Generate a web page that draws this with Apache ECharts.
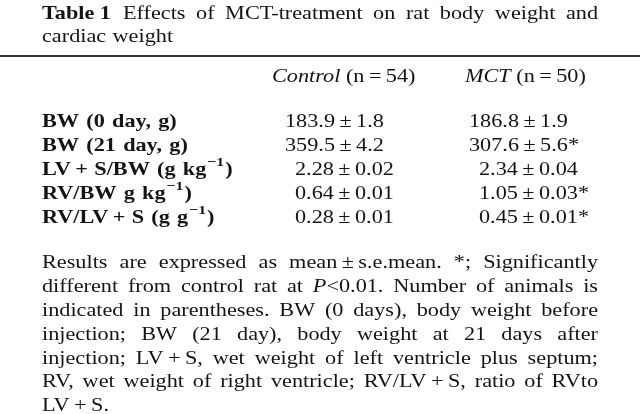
<!DOCTYPE html>
<html>
<head>
<meta charset="utf-8">
<script src="https://cdn.jsdelivr.net/npm/echarts@6/dist/echarts.min.js"></script>
<style>html,body{margin:0;padding:0;background:#fff}#c{width:640px;height:414px}</style>
</head>
<body>
<div id="c"></div>
<script>
// ---- data ----
const tableNumber = 'Table 1';
const titleWords = ['Effects', 'of', 'MCT-treatment', 'on', 'rat', 'body', 'weight', 'and'];
const titleLine2 = 'cardiac weight';
const groupNames = ['Control', 'MCT'];
const groupN = [54, 50];
const rowLabels = [
  'BW (0 day, g)',
  'BW (21 day, g)',
  'LV\u2009+\u2009S/BW (g kg^(\u22121))',
  'RV/BW g kg^(\u22121))',
  'RV/LV\u2009+\u2009S (g g^(\u22121))'
];
const decimals = [1, 1, 2, 2, 2];
const controlMean = [183.9, 359.5, 2.28, 0.64, 0.28];
const controlSem = [1.8, 4.2, 0.02, 0.01, 0.01];
const mctMean = [186.8, 307.6, 2.34, 1.05, 0.45];
const mctSem = [1.9, 5.6, 0.04, 0.03, 0.01];
const mctSignificant = [false, true, false, true, true];
const footnoteLines = [
  'Results are expressed as mean\u2009\u00b1\u2009s.e.mean. *; Significantly',
  'different from control rat at ~(P)<0.01. Number of animals is',
  'indicated in parentheses. BW (0 days), body weight before',
  'injection; BW (21 day), body weight at 21 days after',
  'injection; LV\u2009+\u2009S, wet weight of left ventricle plus septum;',
  'RV, wet weight of right ventricle; RV/LV\u2009+\u2009S, ratio of RVto',
  'LV\u2009+\u2009S.'
];

// ---- layout helpers ----
const FAM = '"Liberation Serif", "Times New Roman", serif';
const SIZE = 19;
const SUP = 13.5;
const SX = 1.17;
const COLOR = '#141414';
const ctx = document.createElement('canvas').getContext('2d');
function fontStr(st, size) {
  return (st === 'i' ? 'italic ' : '') + (st === 'b' ? 'bold ' : '') + size + 'px ' + FAM;
}
function measure(t, st, size) { ctx.font = fontStr(st, size); return ctx.measureText(t).width * SX; }
// parse markup: ^(x) superscript, ~(x) italic
function parse(str, base) {
  const segs = []; const re = /(\^|~)\(([^)]*)\)/g; let last = 0, m;
  while ((m = re.exec(str))) {
    if (m.index > last) segs.push({t: str.slice(last, m.index), st: base, sup: false});
    segs.push({t: m[2], st: m[1] === '~' ? 'i' : base, sup: m[1] === '^'});
    last = re.lastIndex;
  }
  if (last < str.length) segs.push({t: str.slice(last), st: base, sup: false});
  return segs;
}
function segWidth(s) { return measure(s.t, s.st, s.sup ? SUP : SIZE) + (s.sup ? 2 : 0); }
const elements = [];
function placeSegs(segs, x, y) {
  segs.forEach(s => {
    const size = s.sup ? SUP : SIZE;
    elements.push({
      type: 'text', x: s.sup ? x + 1 : x, y: s.sup ? y - 7 : y, scaleX: SX,
      style: {text: s.t, font: fontStr(s.st, size), fill: COLOR, align: 'left', verticalAlign: 'middle'}
    });
    x += segWidth(s);
  });
  return x;
}
function placeLine(str, base, x0, y, x1, gapMul) {
  const words = str.split(' ').map(w => parse(w, base));
  const widths = words.map(w => w.reduce((a, s) => a + segWidth(s), 0));
  const total = widths.reduce((a, b) => a + b, 0);
  const gap = (x1 != null && words.length > 1) ? (x1 - x0 - total) / (words.length - 1) : measure(' ', base, SIZE) * (gapMul || 1.15);
  let x = x0;
  words.forEach((w, i) => { placeSegs(w, x, y); x += widths[i] + gap; });
}

const L = 42, R = 598;
// title
placeSegs([{t: tableNumber, st: 'b', sup: false}], L, 14);
placeLine(titleWords.join(' '), 'r', L + measure(tableNumber, 'b', SIZE) + 12, 14, R);
placeLine(titleLine2, 'r', L, 37);
// rule
elements.push({type: 'line', shape: {x1: 0, y1: 56, x2: 640, y2: 56}, style: {stroke: '#353535', lineWidth: 2}});
// header
const colX = [272, 465];
groupNames.forEach((g, i) => {
  placeSegs([{t: g, st: 'i', sup: false}, {t: ' (n\u2009=\u2009' + groupN[i] + ')', st: 'r', sup: false}], colX[i], 77);
});
// rows
const valX = [285, 469];
rowLabels.forEach((lab, r) => {
  const y = 122 + r * 24;
  placeLine(lab.replace(/\u2009\+\u2009/g, '\u2009+\u2009\u200a'), 'b', L, y, null, 1.3);
  [[controlMean, controlSem, null], [mctMean, mctSem, mctSignificant]].forEach((c, ci) => {
    const mean = c[0][r], sem = c[1][r];
    const star = c[2] && c[2][r] ? '*' : '';
    const indent = mean < 10 ? 10 : 0;
    const txt = mean.toFixed(decimals[r]) + '\u2009\u00b1\u2009' + sem.toFixed(decimals[r]) + star;
    placeSegs([{t: txt, st: 'r', sup: false}], valX[ci] + indent, y);
  });
});
// footnote
footnoteLines.forEach((ln, i) => {
  const y = 263 + i * 23.9;
  placeLine(ln, 'r', L, y, i < footnoteLines.length - 1 ? R : null);
});

const chart = echarts.init(document.getElementById('c'), null, {renderer: 'canvas'});
chart.setOption({backgroundColor: '#fff', animation: false, graphic: {elements: elements}});
</script>
</body>
</html>
